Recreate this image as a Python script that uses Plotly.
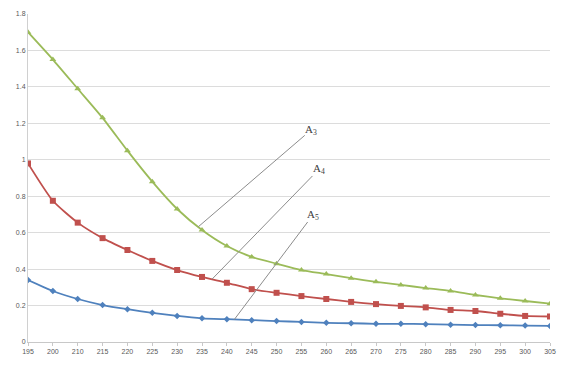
import numpy as np
import plotly.graph_objects as go

categories = ["195", "200", "210", "215", "220", "225", "230", "235", "240", "245", "250",
              "255", "260", "265", "270", "275", "280", "285", "290", "295", "300", "305"]
series_a3 = [1.70, 1.55, 1.39, 1.23, 1.05, 0.88, 0.73, 0.615, 0.527, 0.467, 0.43,
             0.395, 0.373, 0.35, 0.33, 0.313, 0.296, 0.28, 0.258, 0.24, 0.225, 0.21]
series_a4 = [0.98, 0.775, 0.655, 0.57, 0.505, 0.445, 0.395, 0.357, 0.325, 0.29, 0.27,
             0.252, 0.236, 0.22, 0.208, 0.198, 0.19, 0.176, 0.17, 0.155, 0.143, 0.14]
series_a5 = [0.34, 0.28, 0.236, 0.203, 0.18, 0.16, 0.143, 0.13, 0.125, 0.12, 0.115,
             0.11, 0.105, 0.103, 0.10, 0.10, 0.098, 0.095, 0.093, 0.092, 0.09, 0.088]
y_ticks = [0, 0.2, 0.4, 0.6, 0.8, 1, 1.2, 1.4, 1.6, 1.8]
labels = ["A<sub>3</sub>", "A<sub>4</sub>", "A<sub>5</sub>"]

idx = list(range(len(categories)))
fig = go.Figure()
specs = [
    (series_a3, "#9BBB59", "triangle-up", 6),
    (series_a4, "#C0504D", "square", 6),
    (series_a5, "#4F81BD", "diamond", 5),
]
for vals, col, sym, sz in specs:
    fig.add_trace(go.Scatter(
        x=idx, y=vals, mode="lines+markers",
        line=dict(color=col, width=1.8, shape="spline", smoothing=0.6),
        marker=dict(symbol=sym, size=sz, color=col),
        showlegend=False, hoverinfo="skip"))

# leader-line labels anchored on the curves
anchors = [(6.85, series_a3, 113, -97), (7.4, series_a4, 107, -110), (8.3, series_a5, 79, -105)]
for (xi, vals, ax, ay), lab in zip(anchors, labels):
    yv = float(np.interp(xi, idx, vals))
    fig.add_annotation(x=xi, y=yv, ax=ax, ay=ay, axref="pixel", ayref="pixel",
                       text=lab, showarrow=True, arrowhead=0, arrowwidth=1,
                       arrowcolor="#8c8c8c", standoff=0, borderpad=0,
                       font=dict(family="Liberation Serif", size=11, color="#404040"))

fig.update_layout(
    width=563, height=365,
    margin=dict(l=28, r=7, t=14, b=23),
    paper_bgcolor="white", plot_bgcolor="white",
    font=dict(family="Liberation Sans", size=7, color="#595959"),
)
fig.update_xaxes(
    range=[0, len(categories) - 1], tickmode="array", tickvals=idx, ticktext=categories,
    showgrid=False, showline=True, linecolor="#c8c8c8", linewidth=1,
    ticks="outside", ticklen=3, tickcolor="#c8c8c8", zeroline=False,
    tickfont=dict(size=7, color="#595959"))
fig.update_yaxes(
    range=[0, 1.8], tickmode="array", tickvals=y_ticks,
    ticktext=[("%g" % v) for v in y_ticks],
    showgrid=True, gridcolor="#dcdcdc", gridwidth=1,
    showline=True, linecolor="#d0d0d0", linewidth=1, zeroline=False,
    ticks="", tickfont=dict(size=7, color="#595959"))

fig.write_html("out.html")
